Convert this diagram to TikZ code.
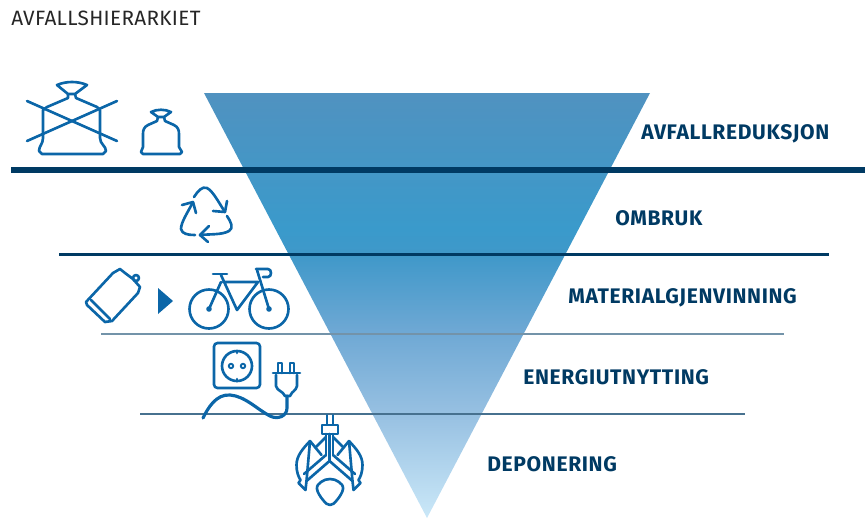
\documentclass[tikz,border=0pt]{standalone}
\usepackage{fontspec}
\setmainfont{Fira Sans}
\definecolor{navy}{HTML}{003A63}
\definecolor{iconblue}{HTML}{0B66A8}
\definecolor{fadea}{HTML}{CBE8F8}
\definecolor{fadeb}{HTML}{98C1E2}
\definecolor{fadec}{HTML}{6EA8D4}
\definecolor{faded}{HTML}{3F98C9}
\definecolor{fadee}{HTML}{3A9ACB}
\definecolor{fadef}{HTML}{5092C0}
\pgfdeclareverticalshading{trianglefade}{100bp}{
  color(0bp)=(fadea);
  color(25bp)=(fadea);
  color(37bp)=(fadeb);
  color(47bp)=(fadec);
  color(56bp)=(faded);
  color(59bp)=(fadee);
  color(75bp)=(fadef);
  color(100bp)=(fadef)}
\tikzset{
  rulethick/.style={navy,line width=3.9pt},
  rulemid/.style={navy,line width=1.7pt},
  rulethin/.style={navy!55!white,line width=0.6pt},
  rulethinner/.style={navy!72!white,line width=0.6pt},
  iconline/.style={iconblue,line width=1.5pt,line join=round,line cap=round},
  levellabel/.style={anchor=west,inner sep=0pt,text=navy,font=\fontsize{12}{14}\selectfont\bfseries\addfontfeature{LetterSpace=3}},
  titlelabel/.style={anchor=west,inner sep=0pt,text=black!85,font=\fontsize{11.8}{14}\selectfont\addfontfeature{LetterSpace=1.5}}
}
\begin{document}
\begin{tikzpicture}[x=0.02cm,y=-0.02cm]
  \useasboundingbox (0,0) rectangle (865,518);
  \node[titlelabel] (title) at (11,18) {AVFALLSHIERARKIET};
  % triangle
  \shade[shading=trianglefade] (204,93) -- (650,93) -- (427,518) -- cycle;
  % level rules
  \coordinate (r1a) at (11,170);  \coordinate (r1b) at (865,170);
  \coordinate (r2a) at (59,254);  \coordinate (r2b) at (829,254);
  \coordinate (r3a) at (101,334); \coordinate (r3b) at (784,334);
  \coordinate (r4a) at (140,414); \coordinate (r4b) at (745,414);
  \draw[rulethick] (r1a) -- (r1b);
  \draw[rulemid] (r2a) -- (r2b);
  \draw[rulethin] (r3a) -- (r3b);
  \draw[rulethinner] (r4a) -- (r4b);
  % labels
  \node[levellabel] (reduksjon) at (641,134) {AVFALLREDUKSJON};
  \node[levellabel] (ombruk) at (615,218) {OMBRUK};
  \node[levellabel] (material) at (568,297.5) {MATERIALGJENVINNING};
  \node[levellabel] (energi) at (523,377.5) {ENERGIUTNYTTING};
  \node[levellabel] (deponering) at (487,464.5) {DEPONERING};
  % big bag, crossed
  \draw[iconline] (57,85) .. controls (66,81) and (78,81) .. (87,85) -- (75,94) -- (68,94) -- cycle;
  \draw[iconline] (68,94) -- (68,98) -- (47,107)
    -- (43,110) -- (43,138) .. controls (43,144) and (39,146) .. (39,151)
    -- (42,154) -- (103,154) -- (106,151) .. controls (106,146) and (100,144) .. (100,138)
    -- (100,110) -- (97,107) -- (76,98) -- (75,94);
  \draw[iconline] (27,101) -- (117,141);
  \draw[iconline] (27,141) -- (117,101);
  % small bag
  \draw[iconline] (151,112) .. controls (157,109) and (165,109) .. (171,112) -- (164,117) -- (158,117) -- cycle;
  \draw[iconline] (158,117) -- (157,121) -- (148,125) .. controls (144,127) and (143,130) .. (143,134)
    -- (143,147) -- (141,152) -- (143,154) -- (180,154) -- (182,152) -- (179,147)
    -- (179,134) .. controls (179,130) and (178,127) .. (174,125) -- (165,121) -- (164,117);
  % recycling arrows
  \draw[iconline] (194,197) .. controls (198,191) and (202,186) .. (207,188) .. controls (213,191) and (219,203) .. (225,212);
  \draw[iconline] (227,201) -- (225,212) -- (213,211);
  \draw[iconline] (227,216) .. controls (231,222) and (234,228) .. (229,231) .. controls (222,235) and (210,234) .. (200,235);
  \draw[iconline] (209,226) -- (200,235) -- (208,242);
  \draw[iconline] (195,235) .. controls (188,235) and (182,234) .. (181,229) .. controls (181,222) and (188,212) .. (193,202);
  \draw[iconline] (182,205) -- (193,202) -- (196,213);
  % can
  \draw[iconline] (86,302) -- (113,273) -- (120,269) -- (125,273) -- (133,279) -- (140,287)
    -- (138,293) -- (112,321) -- (105,322) -- (87,305) -- cycle;
  \draw[iconline] (136,278) circle (3);
  \draw[iconline] (91,300) -- (110,319);
  \fill[iconblue] (158,288) -- (173,301) -- (158,314) -- cycle;
  % bicycle
  \draw[iconline] (209,309) circle (19.5);
  \draw[iconline] (269,309) circle (19.5);
  \fill[iconblue] (209,309) circle (2.8);
  \fill[iconblue] (269,309) circle (2.8);
  \draw[iconline] (213,274) -- (227,274);
  \draw[iconline] (221,275) -- (237,310) -- (258,282) -- (223,282);
  \draw[iconline] (221,282) -- (209,309);
  \draw[iconline] (269,309) -- (257,270);
  \draw[iconline] (256,269) -- (268,269) .. controls (272,269) and (272,277) .. (268,277) -- (263,277);
  % socket
  \draw[iconline,rounded corners=2pt] (214,343) rectangle (260,388);
  \draw[iconline] (237,366) circle (15);
  \draw[iconline] (237,351) -- (237,353);
  \draw[iconline] (237,379) -- (237,381);
  \draw[iconline,line width=1.1pt] (231,366) circle (2.2);
  \draw[iconline,line width=1.1pt] (243,366) circle (2.2);
  % plug and cord
  \draw[iconline] (278,373) -- (278,363) -- (282,363) -- (282,373);
  \draw[iconline] (290,373) -- (290,363) -- (294,363) -- (294,373);
  \draw[iconline] (273,373) -- (300,373);
  \draw[iconline] (276,375) -- (276,386) .. controls (277,391) and (283,391) .. (285,396)
    -- (290,396) .. controls (292,391) and (296,391) .. (297,386) -- (297,375);
  \draw[iconline,line width=1.8pt] (287,396) -- (287,408) .. controls (287,416) and (278,420) .. (270,416)
    .. controls (258,410) and (245,396) .. (230,395) .. controls (216,394) and (208,408) .. (203,418);
  % claw
  \draw[iconline,line width=1pt] (327,415) -- (327,425);
  \draw[iconline,line width=1pt] (333,415) -- (333,425);
  \draw[iconline] (322,425) rectangle (338,434);
  \draw[iconline] (326,434) -- (326,455);
  \draw[iconline] (333,434) -- (333,455);
  \draw[iconline] (329.5,434) -- (329.5,461);
  \foreach \s in {1,-1} {
    \draw[iconline] ({329.5+\s*(-19.5)},441) .. controls ({329.5+\s*(-27)},449) and ({329.5+\s*(-33)},456) .. ({329.5+\s*(-33)},465)
      .. controls ({329.5+\s*(-33)},472) and ({329.5+\s*(-31)},477) .. ({329.5+\s*(-29)},480)
      -- ({329.5+\s*(-31)},483) -- ({329.5+\s*(-24)},490) -- ({329.5+\s*(-23)},481) -- cycle;
    \draw[iconline] ({329.5+\s*(-19.5)},441) -- ({329.5+\s*(-8)},455);
    \draw[iconline] ({329.5+\s*(-3.5)},437) -- ({329.5+\s*(-13.5)},447);
    \draw[iconline] ({329.5+\s*(-3.5)},455) -- ({329.5+\s*(-25.5)},474);
    \draw[iconline] (329.5,461) -- ({329.5+\s*(-23)},481);
  }
  \draw[iconline] plot[smooth cycle,tension=0.7] coordinates {(330,479) (339,482) (343,489) (337,500) (330,505) (323,500) (317,489) (321,482)};
\end{tikzpicture}
\end{document}
